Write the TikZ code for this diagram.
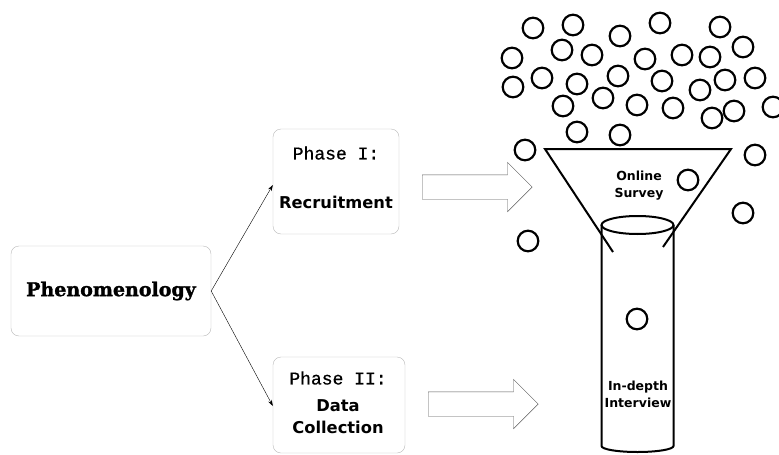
\documentclass[tikz,border=0pt]{standalone}
\usepackage{fontspec}
\usepackage{tikz}
\usetikzlibrary{positioning}
\usetikzlibrary{shapes,shapes.geometric,shapes.arrows}
\usetikzlibrary{arrows.meta}
\newfontfamily\phenfont[FakeBold=1.5]{DejaVu Serif}
\newfontfamily\monofont[FakeBold=0.8]{Liberation Mono}
\newfontfamily\labelfont{DejaVu Sans}
\tikzstyle{novertex} = [draw=none, fill=none, text centered]
\tikzstyle{phasebox} = [rectangle, draw=gray!55, thin, rounded corners=8pt]
\tikzstyle{phasetitle} = [novertex, font=\monofont\fontsize{18}{22}\selectfont]
\tikzstyle{phasename} = [novertex, align=center, font=\labelfont\bfseries\fontsize{16.3}{22}\selectfont]
\tikzstyle{link} = [draw, thin, -{Stealth[length=6pt,width=4pt]}]
\tikzstyle{bigarrow} = [single arrow, draw=black!65, fill=white, thin, inner xsep=0pt, inner ysep=12pt, minimum height=110pt, single arrow head extend=12.5pt, single arrow tip angle=90, anchor=west]
\tikzstyle{bubble} = [draw, line width=2.2pt]
\tikzstyle{funnel} = [draw, line width=2pt]
\tikzstyle{stage} = [novertex, align=center, font=\labelfont\bfseries\fontsize{12.5}{17}\selectfont]

\begin{document}
\begin{tikzpicture}[x=1pt, y=-1pt]
	\useasboundingbox (0,0) rectangle (779,455);

	% place nodes
	\node [phasebox, minimum width=200pt, minimum height=90pt] (phen) at (111,291)
		{\phenfont\bfseries\fontsize{19}{22}\selectfont Phenomenology};
	\node [phasebox, minimum width=126pt, minimum height=105pt] (phaseone) at (336,181.5) {};
	\node [phasebox, minimum width=132pt, minimum height=96pt] (phasetwo) at (339,405) {};

	% box texts
	\node [phasetitle] (phaseonetitle) at (336,153) {Phase I:};
	\node [phasename] (recruit) at (336,202) {Recruitment};
	\node [phasetitle] (phasetwotitle) at (338,378) {Phase II:};
	\node [phasename] (datacoll) at (338,417) {Data\\Collection};

	% hollow arrows
	\node [bigarrow] (arrowone) at (422,187) {};
	\node [bigarrow] (arrowtwo) at (428,404) {};

	% draw edges
	\path [link] (phen.east) -- ([yshift=-3.5pt]phaseone.west);
	\path [link] (phen.east) -- ([yshift=-1pt]phasetwo.west);

	% funnel
	\draw [funnel] (613,252) -- (545,149) -- (731,149) -- (663,247);

	% cylinder
	\draw [funnel] (637.5,225) ellipse [x radius=36pt, y radius=9pt];
	\draw [funnel] (601.5,225) -- (601.5,446) arc [start angle=180, end angle=360, x radius=36pt, y radius=6pt] -- (673.5,225);

	% labels
	\node [stage] (survey) at (639,185.5) {Online\\Survey};
	\node [stage] (interview) at (638,394.5) {In-depth\\Interview};

	% bubbles
	\foreach \x/\y in {533/28, 573/25, 620/36, 660/23, 720/27,
		512/58, 562/50, 592/55, 645/59, 682/55, 710/57, 743/47,
		513/87, 542/78, 577/84, 618/76, 662/81, 700/90, 725/80, 755/78,
		563/106, 603/98, 637/105, 673/108, 712/118, 734/111, 773/107,
		577/132, 620/135, 525/150, 755/155, 688/180, 743/213, 528/241, 637/319}
		\draw [bubble] (\x,\y) circle [radius=10.3pt];
\end{tikzpicture}
\end{document}
